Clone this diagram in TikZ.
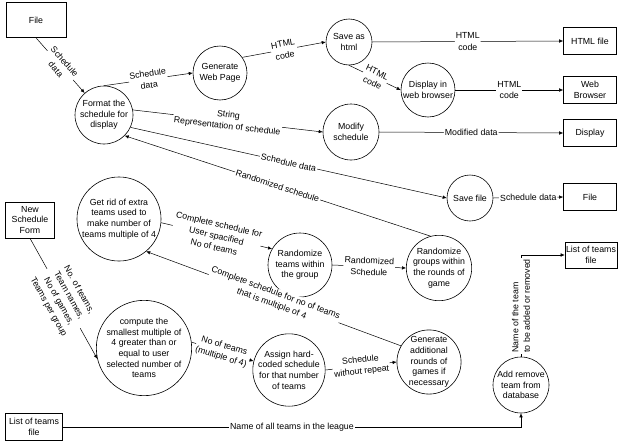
\documentclass[tikz,border=0pt]{standalone}
\usepackage{fontspec}
\setmainfont{Liberation Sans}
\usetikzlibrary{arrows.meta}
\begin{document}
\begin{tikzpicture}[x=1pt,y=-1pt,
  every node/.style={font=\fontsize{8.8pt}{10.6pt}\selectfont},
  proc/.style={draw, circle, line width=0.6pt, inner sep=0pt, align=center},
  ent/.style={draw, rectangle, line width=0.6pt, inner sep=1pt, align=center},
  flow/.style={line width=0.5pt, -{Latex[length=4pt,width=3.5pt]}},
  lbl/.style={fill=white, inner sep=1pt, align=center, sloped, font=\fontsize{8.8pt}{11.6pt}\selectfont},
]
\path[use as bounding box] (0,0) rectangle (623,442);

% external entities
\node[ent, minimum width=60pt, minimum height=35pt] (fileT) at (36,20) {File};
\node[ent, minimum width=53pt, minimum height=27pt] (htmlf) at (590,41) {HTML file};
\node[ent, minimum width=53pt, minimum height=27pt] (webb) at (590,90) {Web\\Browser};
\node[ent, minimum width=53pt, minimum height=27pt] (disp) at (590,133) {Display};
\node[ent, minimum width=53pt, minimum height=27pt] (fileR) at (590,197) {File};
\node[ent, minimum width=52pt, minimum height=26pt] (lotr) at (591,255) {List of teams\\file};
\node[ent, minimum width=49pt, minimum height=36pt] (nsf) at (30,220) {New\\Schedule\\Form};
\node[ent, minimum width=57pt, minimum height=27pt] (lotl) at (34,427) {List of teams\\file};

% processes
\node[proc, minimum size=58pt] (fmt) at (104,115) {Format the\\schedule for\\display};
\node[proc, minimum size=54pt] (gen) at (220,73) {Generate\\Web Page};
\node[proc, minimum size=46pt] (sah) at (349,42) {Save as\\html};
\node[proc, minimum size=54pt] (dwb) at (428,90) {Display in\\web browser};
\node[proc, minimum size=56pt] (mod) at (351,132) {Modify\\schedule};
\node[proc, minimum size=46pt] (svf) at (470,198) {Save file};
\node[proc, minimum size=80pt] (getrid) at (119,219) {Get rid of extra\\teams used to\\make number of\\teams multiple of 4};
\node[proc, minimum size=64pt] (rteams) at (300,265) {Randomize\\teams within\\the group};
\node[proc, minimum size=62pt] (rgroups) at (439,268) {Randomize\\groups within\\the rounds of\\game};
\node[proc, minimum size=80pt] (comp) at (144,348) {compute the\\smallest multiple of\\4 greater than or\\equal to user\\selected number of\\teams};
\node[proc, minimum size=66pt] (assign) at (289,370) {Assign hard-\\coded schedule\\for that number\\of teams};
\node[proc, minimum size=60pt] (genadd) at (429,362) {Generate\\additional\\rounds of\\games if\\necessary};
\node[proc, minimum size=56pt] (addrm) at (521,385) {Add remove\\team from\\database};

% flows
\draw[flow] (fileT.south) -- node[lbl] {Schedule\\data} (fmt);
\draw[flow] (fmt.north) -- node[lbl] {Schedule\\data} (gen.west);
\draw[flow] (gen.35) -- node[lbl] {HTML\\code} (sah.west);
\draw[flow] (sah.east) -- node[lbl] {HTML\\code} (htmlf.west);
\draw[flow] (sah.south) -- node[lbl] {HTML\\code} (dwb.west);
\draw[flow] (dwb.east) -- node[lbl] {HTML\\code} (webb.west);
\draw[flow] (fmt.10) -- node[lbl] {String\\Representation of schedule} (mod.west);
\draw[flow] (mod.east) -- node[lbl] {Modified data} (disp.west);
\draw[flow] (fmt.-25) -- node[lbl] {Schedule data} (svf.west);
\draw[flow] (rgroups.105) -- node[lbl] {Randomized schedule} (fmt.-45);
\draw[flow] (svf.east) -- node[lbl] {Schedule data} (fileR.west);
\draw[flow] (getrid.-5) -- node[lbl] {Complete schedule for\\User spacified\\No of teams} (rteams.150);
\draw[flow] (genadd.150) -- node[lbl] {Complete schedule for no of teams\\that is multiple of 4} (getrid.-50);
\draw[flow] (rteams.east) -- node[lbl] {Randomized\\Schedule} (rgroups.west);
\draw[flow] (nsf.south) -- node[lbl] {No. of teams,\\Team names,\\No of games,\\Teams per group} (comp.193);
\draw[flow] (comp.7) -- node[lbl] {No of teams\\(multiple of 4)} (assign.166);
\draw[flow] (assign.east) -- node[lbl] {Schedule\\without repeat} (genadd.west);
\draw[flow] (lotl.east) -- node[lbl] {Name of all teams in the league} (lotl.east -| addrm.south) -- (addrm.south);
\draw[flow] (addrm.north) -- node[lbl, align=left] {Name of the team\\to be added or removed} (addrm.north |- lotr.west) -- (lotr.west);
\end{tikzpicture}
\end{document}
